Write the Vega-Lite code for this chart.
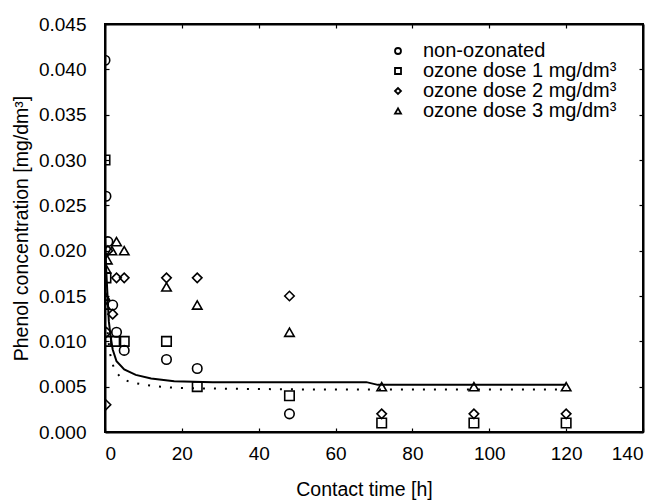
{
  "$schema": "https://vega.github.io/schema/vega-lite/v6.json",
  "width": 538,
  "height": 408,
  "autosize": {"type": "none"},
  "padding": {"left": 105, "top": 24, "right": 13, "bottom": 68},
  "background": "white",
  "config": {
    "font": "Liberation Sans",
    "view": {"stroke": "black", "strokeWidth": 2},
    "axis": {
      "grid": false,
      "domainColor": "black",
      "domainWidth": 2,
      "tickColor": "black",
      "tickSize": -4,
      "tickWidth": 1.2,
      "labelColor": "black",
      "labelFont": "Liberation Sans",
      "labelFontSize": 19,
      "titleColor": "black",
      "titleFont": "Liberation Sans",
      "titleFontSize": 19.5,
      "titleFontWeight": "normal"
    },
    "legend": {
      "labelFont": "Liberation Sans",
      "labelFontSize": 20,
      "labelColor": "black",
      "labelLimit": 400
    }
  },
  "datasets": {
    "pts": [
      {"t": 0, "c": 0.041, "s": "non-ozonated"},
      {"t": 0.25, "c": 0.026, "s": "non-ozonated"},
      {"t": 0.75, "c": 0.021, "s": "non-ozonated"},
      {"t": 2, "c": 0.014, "s": "non-ozonated"},
      {"t": 3, "c": 0.011, "s": "non-ozonated"},
      {"t": 5, "c": 0.009, "s": "non-ozonated"},
      {"t": 16, "c": 0.008, "s": "non-ozonated"},
      {"t": 24, "c": 0.007, "s": "non-ozonated"},
      {"t": 48, "c": 0.002, "s": "non-ozonated"},
      {"t": 0, "c": 0.030, "s": "ozone dose 1 mg/dm³"},
      {"t": 0.25, "c": 0.017, "s": "ozone dose 1 mg/dm³"},
      {"t": 0.4, "c": 0.010, "s": "ozone dose 1 mg/dm³"},
      {"t": 2.8, "c": 0.010, "s": "ozone dose 1 mg/dm³"},
      {"t": 5, "c": 0.010, "s": "ozone dose 1 mg/dm³"},
      {"t": 16, "c": 0.010, "s": "ozone dose 1 mg/dm³"},
      {"t": 24, "c": 0.005, "s": "ozone dose 1 mg/dm³"},
      {"t": 48, "c": 0.004, "s": "ozone dose 1 mg/dm³"},
      {"t": 72, "c": 0.001, "s": "ozone dose 1 mg/dm³"},
      {"t": 96, "c": 0.001, "s": "ozone dose 1 mg/dm³"},
      {"t": 120, "c": 0.001, "s": "ozone dose 1 mg/dm³"},
      {"t": 0.25, "c": 0.003, "s": "ozone dose 2 mg/dm³"},
      {"t": 0.4, "c": 0.011, "s": "ozone dose 2 mg/dm³"},
      {"t": 0.75, "c": 0.020, "s": "ozone dose 2 mg/dm³"},
      {"t": 2, "c": 0.013, "s": "ozone dose 2 mg/dm³"},
      {"t": 3, "c": 0.017, "s": "ozone dose 2 mg/dm³"},
      {"t": 5, "c": 0.017, "s": "ozone dose 2 mg/dm³"},
      {"t": 16, "c": 0.017, "s": "ozone dose 2 mg/dm³"},
      {"t": 24, "c": 0.017, "s": "ozone dose 2 mg/dm³"},
      {"t": 48, "c": 0.015, "s": "ozone dose 2 mg/dm³"},
      {"t": 72, "c": 0.002, "s": "ozone dose 2 mg/dm³"},
      {"t": 96, "c": 0.002, "s": "ozone dose 2 mg/dm³"},
      {"t": 120, "c": 0.002, "s": "ozone dose 2 mg/dm³"},
      {"t": 0, "c": 0.014, "s": "ozone dose 3 mg/dm³"},
      {"t": 0, "c": 0.015, "s": "ozone dose 3 mg/dm³"},
      {"t": 0.25, "c": 0.018, "s": "ozone dose 3 mg/dm³"},
      {"t": 0.6, "c": 0.019, "s": "ozone dose 3 mg/dm³"},
      {"t": 1.8, "c": 0.020, "s": "ozone dose 3 mg/dm³"},
      {"t": 3, "c": 0.021, "s": "ozone dose 3 mg/dm³"},
      {"t": 5, "c": 0.020, "s": "ozone dose 3 mg/dm³"},
      {"t": 16, "c": 0.016, "s": "ozone dose 3 mg/dm³"},
      {"t": 24, "c": 0.014, "s": "ozone dose 3 mg/dm³"},
      {"t": 48, "c": 0.011, "s": "ozone dose 3 mg/dm³"},
      {"t": 72, "c": 0.005, "s": "ozone dose 3 mg/dm³"},
      {"t": 96, "c": 0.005, "s": "ozone dose 3 mg/dm³"},
      {"t": 120, "c": 0.005, "s": "ozone dose 3 mg/dm³"}
    ],
    "fit": [
      {"t": 0, "c": 0.0215, "k": "solid"},
      {"t": 0.3, "c": 0.018, "k": "solid"},
      {"t": 0.6, "c": 0.0155, "k": "solid"},
      {"t": 1, "c": 0.0122, "k": "solid"},
      {"t": 1.5, "c": 0.0104, "k": "solid"},
      {"t": 2, "c": 0.0091, "k": "solid"},
      {"t": 3, "c": 0.0078, "k": "solid"},
      {"t": 5, "c": 0.0069, "k": "solid"},
      {"t": 8, "c": 0.0063, "k": "solid"},
      {"t": 12, "c": 0.0059, "k": "solid"},
      {"t": 18, "c": 0.0056, "k": "solid"},
      {"t": 28, "c": 0.0055, "k": "solid"},
      {"t": 68, "c": 0.0055, "k": "solid"},
      {"t": 71, "c": 0.0052, "k": "solid"},
      {"t": 120, "c": 0.0052, "k": "solid"},
      {"t": 0.7, "c": 0.011, "k": "dotted"},
      {"t": 1.1, "c": 0.0092, "k": "dotted"},
      {"t": 1.7, "c": 0.0078, "k": "dotted"},
      {"t": 2.6, "c": 0.0068, "k": "dotted"},
      {"t": 4.3, "c": 0.0059, "k": "dotted"},
      {"t": 6.6, "c": 0.0055, "k": "dotted"},
      {"t": 9.1, "c": 0.0053, "k": "dotted"},
      {"t": 12, "c": 0.0051, "k": "dotted"},
      {"t": 17, "c": 0.0049, "k": "dotted"},
      {"t": 25, "c": 0.0048, "k": "dotted"},
      {"t": 50, "c": 0.0047, "k": "dotted"},
      {"t": 120, "c": 0.0047, "k": "dotted"}
    ]
  },
  "layer": [
    {
      "data": {"name": "fit"},
      "transform": [{"filter": "datum.k === 'solid'"}],
      "mark": {"type": "line", "color": "black", "strokeWidth": 2, "clip": true},
      "encoding": {
        "x": {"field": "t", "type": "quantitative", "scale": {"domain": [0, 140], "nice": false}, "axis": {"values": [0, 20, 40, 60, 80, 100, 120, 140], "title": "Contact time [h]", "labelPadding": 16, "titlePadding": 17, "titleX": 259}},
        "y": {"field": "c", "type": "quantitative", "scale": {"domain": [0, 0.045], "nice": false}, "axis": {"values": [0, 0.005, 0.01, 0.015, 0.02, 0.025, 0.03, 0.035, 0.04, 0.045], "format": ".3f", "title": "Phenol concentration [mg/dm³]", "labelPadding": 23, "titlePadding": 7}}
      }
    },
    {
      "data": {"name": "fit"},
      "transform": [{"filter": "datum.k === 'dotted'"}],
      "mark": {"type": "line", "color": "black", "strokeWidth": 2, "strokeDash": [2, 9], "clip": true},
      "encoding": {
        "x": {"field": "t", "type": "quantitative", "axis": null},
        "y": {"field": "c", "type": "quantitative", "axis": null}
      }
    },
    {
      "data": {"name": "pts"},
      "mark": {"type": "point", "filled": false, "color": "black", "opacity": 1, "strokeWidth": 1.6, "size": 90, "clip": true},
      "encoding": {
        "x": {"field": "t", "type": "quantitative", "axis": null},
        "y": {"field": "c", "type": "quantitative", "axis": null},
        "shape": {
          "field": "s",
          "type": "nominal",
          "scale": {"domain": ["non-ozonated", "ozone dose 1 mg/dm³", "ozone dose 2 mg/dm³", "ozone dose 3 mg/dm³"], "range": ["circle", "square", "diamond", "triangle-up"]},
          "legend": {"title": null, "orient": "none", "legendX": 283, "legendY": 17, "padding": 0, "rowPadding": -2, "symbolSize": 36, "symbolStrokeWidth": 1.8, "symbolStrokeColor": "black", "symbolFillColor": "transparent", "symbolOpacity": 1, "labelOffset": 15}
        }
      }
    },
    {
      "data": {"name": "pts"},
      "mark": {"type": "point", "opacity": 0},
      "encoding": {
        "x": {"field": "t", "type": "quantitative", "axis": {"orient": "top", "values": [0, 20, 40, 60, 80, 100, 120, 140], "labels": false, "title": null}},
        "y": {"field": "c", "type": "quantitative", "axis": {"orient": "right", "values": [0, 0.005, 0.01, 0.015, 0.02, 0.025, 0.03, 0.035, 0.04, 0.045], "labels": false, "title": null}}
      }
    }
  ],
  "resolve": {"axis": {"x": "independent", "y": "independent"}}
}
